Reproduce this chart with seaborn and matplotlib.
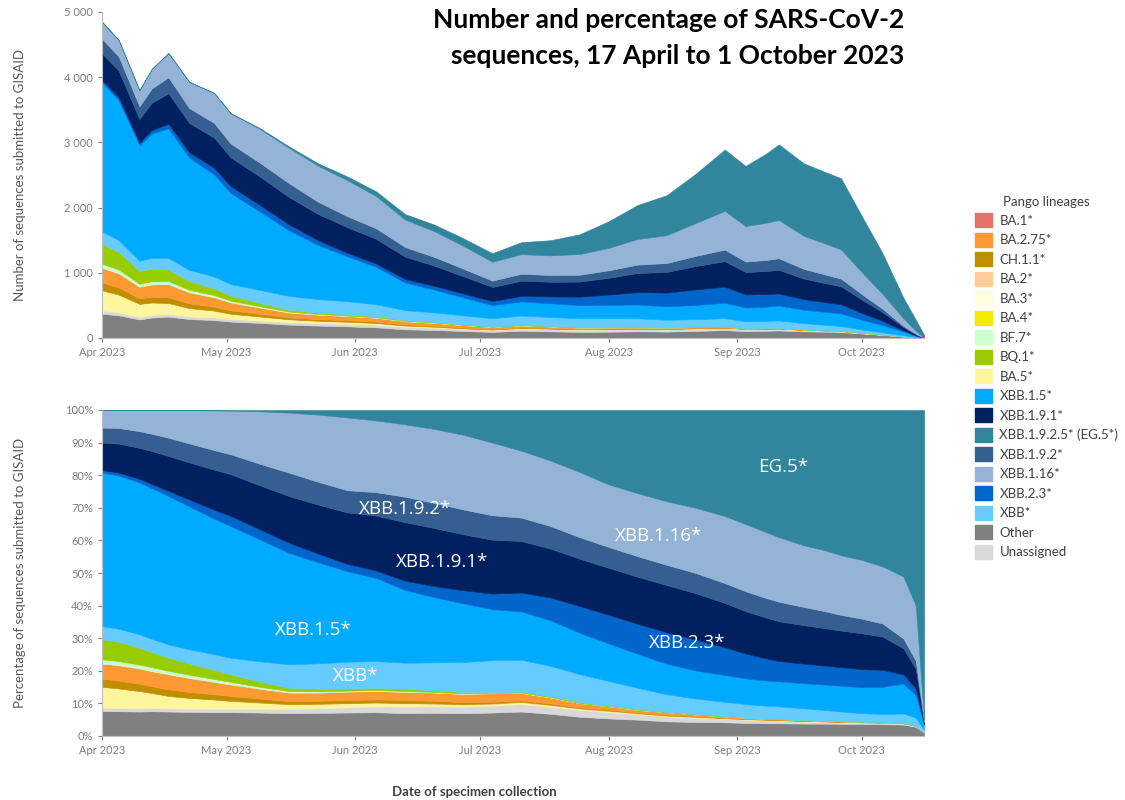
import numpy as np
import pandas as pd
import seaborn as sns
import matplotlib.pyplot as plt
import matplotlib.dates as mdates
import matplotlib.ticker as mtick
from matplotlib.patches import Patch

dates = ["2023-04-01", "2023-04-05", "2023-04-10", "2023-04-13", "2023-04-17", "2023-04-22",
         "2023-04-28", "2023-05-02", "2023-05-09", "2023-05-16", "2023-05-23", "2023-05-30",
         "2023-06-06", "2023-06-13", "2023-06-20", "2023-06-27", "2023-07-04", "2023-07-11",
         "2023-07-18", "2023-07-25", "2023-08-01", "2023-08-08", "2023-08-15", "2023-08-22",
         "2023-08-29", "2023-09-03", "2023-09-08", "2023-09-11", "2023-09-17", "2023-09-22",
         "2023-09-26", "2023-10-01", "2023-10-06", "2023-10-11", "2023-10-14", "2023-10-16"]

# total sequences per day (top panel)
totals = [4850, 4570, 3800, 4130, 4370, 3930, 3760, 3450, 3220, 2940, 2680, 2480,
          2250, 1900, 1740, 1530, 1300, 1470, 1500, 1590, 1790, 2040, 2190, 2520,
          2890, 2640, 2830, 2970, 2680, 2550, 2450, 1870, 1300, 620, 280, 50]

# share of each lineage, % (bottom panel)
other = [7.7, 7.6, 7.5, 7.6, 7.5, 7.4, 7.3, 7.3, 7.2, 7.0, 7.1, 7.2, 7.3, 7.0, 7.1, 7.0, 7.2, 7.5,
         6.8, 5.9, 5.4, 5.0, 4.5, 4.3, 4.2, 4.0, 3.9, 3.9, 3.8, 3.8, 3.7, 3.7, 3.6, 3.5, 2.8, 1.0]
unassigned = [1.0, 1.0, 1.0, 1.0, 1.0, 1.0, 1.1, 1.1, 1.2, 1.3, 1.4, 1.6, 1.8, 2.0, 2.0, 2.0, 2.1, 2.3,
              2.2, 2.1, 1.9, 1.7, 1.5, 1.3, 1.1, 1.0, 0.9, 0.8, 0.6, 0.5, 0.4, 0.3, 0.3, 0.3, 0.3, 0.2]
ba5 = [6.4, 6.0, 5.3, 4.6, 3.8, 3.3, 2.8, 2.3, 1.8, 1.4, 1.3, 1.2, 1.1, 1.0, 0.8, 0.6, 0.5, 0.5,
       0.4, 0.3, 0.3, 0.2, 0.2, 0.2, 0.1, 0.1, 0.1, 0.1, 0.1, 0.1, 0.1, 0.1, 0.1, 0.1, 0.0, 0.0]
ba2 = [0.0, 0.0, 0.0, 0.0, 0.0, 0.0, 0.0, 0.1, 0.1, 0.1, 0.1, 0.1, 0.1, 0.1, 0.1, 0.2, 0.2, 0.2,
       0.2, 0.2, 0.2, 0.1, 0.1, 0.1, 0.1, 0.1, 0.1, 0.1, 0.1, 0.1, 0.1, 0.1, 0.1, 0.0, 0.0, 0.0]
ch11 = [2.5, 2.4, 2.2, 2.1, 2.0, 1.8, 1.6, 1.5, 1.2, 0.9, 0.9, 0.9, 0.9, 0.9, 0.8, 0.6, 0.5, 0.4,
        0.4, 0.3, 0.3, 0.2, 0.2, 0.2, 0.1, 0.1, 0.1, 0.1, 0.1, 0.1, 0.1, 0.1, 0.0, 0.0, 0.0, 0.0]
ba275 = [4.6, 4.7, 4.7, 4.6, 4.6, 4.3, 3.8, 3.5, 3.0, 2.6, 2.5, 2.6, 2.6, 2.5, 2.5, 2.5, 2.6, 2.3,
         1.8, 1.3, 1.0, 0.8, 0.8, 0.5, 0.4, 0.3, 0.2, 0.2, 0.2, 0.1, 0.1, 0.1, 0.1, 0.1, 0.0, 0.0]
bf7 = [1.3, 1.3, 1.2, 1.2, 1.1, 1.0, 0.9, 0.8, 0.6, 0.5, 0.4, 0.3, 0.3, 0.3, 0.2, 0.2, 0.1, 0.1,
       0.1, 0.0, 0.0, 0.0, 0.0, 0.0, 0.0, 0.0, 0.0, 0.0, 0.0, 0.0, 0.0, 0.0, 0.0, 0.0, 0.0, 0.0]
bq1 = [6.2, 5.9, 5.2, 4.6, 4.0, 3.4, 2.8, 2.3, 1.6, 1.0, 0.8, 0.7, 0.7, 0.7, 0.5, 0.4, 0.3, 0.3,
       0.3, 0.3, 0.2, 0.2, 0.1, 0.1, 0.1, 0.0, 0.0, 0.0, 0.0, 0.0, 0.0, 0.0, 0.0, 0.0, 0.0, 0.0]
xbb = [4.0, 4.0, 4.1, 4.1, 4.1, 4.4, 4.8, 5.1, 6.2, 7.2, 7.8, 8.2, 8.2, 8.0, 8.6, 9.2, 9.8, 9.8,
       9.3, 8.6, 7.6, 6.6, 5.4, 4.8, 4.4, 4.2, 4.0, 3.9, 3.6, 3.3, 3.0, 2.6, 2.6, 2.9, 2.5, 0.8]
xbb_1_5 = [47.1, 47.0, 46.6, 46.2, 45.5, 43.8, 41.6, 40.4, 37.4, 34.2, 31.0, 27.8, 25.5, 22.3, 20.0,
           18.0, 15.6, 14.8, 14.0, 12.7, 11.5, 10.4, 9.4, 8.6, 8.2, 7.9, 7.7, 7.7, 7.7, 7.8, 7.9,
           8.0, 8.3, 9.2, 7.0, 1.5]
xbb_2_3 = [0.8, 0.9, 1.1, 1.3, 1.6, 2.1, 2.7, 3.1, 3.1, 3.1, 2.7, 2.2, 2.3, 2.8, 3.4, 4.0, 4.8, 5.8,
           7.0, 8.2, 8.8, 9.2, 9.6, 9.5, 8.5, 7.6, 6.8, 6.2, 6.0, 5.8, 5.7, 5.5, 5.2, 2.8, 2.0, 0.3]
xbb_1_9_1 = [8.4, 8.9, 9.5, 10.1, 10.7, 11.4, 12.3, 12.8, 13.5, 14.3, 15.0, 15.8, 16.8, 18.0, 17.8,
             17.2, 16.5, 15.8, 15.0, 14.5, 14.4, 14.4, 14.5, 14.2, 13.6, 13.0, 12.5, 12.2, 11.8,
             11.5, 11.2, 11.0, 10.2, 8.0, 6.0, 0.4]
xbb_1_9_2 = [4.6, 4.8, 5.1, 5.3, 5.6, 5.8, 6.0, 6.1, 6.6, 7.2, 7.0, 6.8, 7.2, 7.8, 7.7, 7.6, 7.5, 7.2,
             6.9, 6.6, 6.4, 6.3, 6.2, 6.2, 6.1, 6.1, 6.0, 6.0, 5.6, 5.2, 4.8, 4.5, 4.0, 3.0, 2.5, 0.2]
xbb_1_16 = [5.4, 5.5, 6.5, 7.3, 8.5, 10.2, 12.2, 13.4, 16.1, 18.4, 20.6, 22.3, 22.0, 22.2, 22.7,
            22.9, 22.3, 20.5, 20.1, 20.0, 19.2, 19.3, 19.5, 20.0, 20.6, 20.6, 20.2, 19.8, 18.9,
            18.7, 18.3, 18.0, 17.5, 19.0, 16.9, 0.6]
eg5 = [0.0, 0.0, 0.0, 0.0, 0.0, 0.05, 0.1, 0.2, 0.4, 0.8, 1.4, 2.3, 3.2, 4.4, 5.8, 7.6, 10.0, 12.5,
       15.5, 19.0, 22.8, 25.5, 28.0, 30.0, 32.5, 35.0, 37.5, 39.0, 41.5, 43.0, 44.5, 46.0, 48.0,
       51.0, 60.0, 95.0]

# stacking order, bottom to top
stack = [("Other", other, "#808080"),
         ("Unassigned", unassigned, "#D9D9D9"),
         ("BA.5*", ba5, "#FFF59D"),
         ("BA.2*", ba2, "#FFCC99"),
         ("CH.1.1*", ch11, "#BF8F00"),
         ("BA.2.75*", ba275, "#FF9933"),
         ("BF.7*", bf7, "#CCFFCC"),
         ("BQ.1*", bq1, "#99CC00"),
         ("XBB*", xbb, "#66CCFF"),
         ("XBB.1.5*", xbb_1_5, "#00AAFF"),
         ("XBB.2.3*", xbb_2_3, "#0066CC"),
         ("XBB.1.9.1*", xbb_1_9_1, "#002060"),
         ("XBB.1.9.2*", xbb_1_9_2, "#355F91"),
         ("XBB.1.16*", xbb_1_16, "#95B3D7"),
         ("XBB.1.9.2.5* (EG.5*)", eg5, "#31859C")]

legend_items = [("BA.1*", "#E8706B"), ("BA.2.75*", "#FF9933"), ("CH.1.1*", "#BF8F00"),
                ("BA.2*", "#FFCC99"), ("BA.3*", "#FFFFDD"), ("BA.4*", "#F2EA00"),
                ("BF.7*", "#CCFFCC"), ("BQ.1*", "#99CC00"), ("BA.5*", "#FFF59D"),
                ("XBB.1.5*", "#00AAFF"), ("XBB.1.9.1*", "#002060"),
                ("XBB.1.9.2.5* (EG.5*)", "#31859C"), ("XBB.1.9.2*", "#355F91"),
                ("XBB.1.16*", "#95B3D7"), ("XBB.2.3*", "#0066CC"), ("XBB*", "#66CCFF"),
                ("Other", "#808080"), ("Unassigned", "#D9D9D9")]

sns.set_theme(style="white")
plt.rcParams['font.family'] = ['Lato', 'DejaVu Sans']

x = pd.to_datetime(dates)
shares = pd.DataFrame({name: vals for name, vals, _ in stack}, index=x)
pct = shares.div(shares.sum(axis=1), axis=0) * 100
counts = pct.mul(np.array(totals), axis=0) / 100
colors = [c for _, _, c in stack]

fig = plt.figure(figsize=(11.25, 8), dpi=100)
ax1 = fig.add_axes([0.0907, 0.5775, 0.7307, 0.4075])
ax2 = fig.add_axes([0.0907, 0.08, 0.7307, 0.4075])

for ax, df in [(ax1, counts), (ax2, pct)]:
    polys = ax.stackplot(df.index, df.T.values, colors=colors)
    for p, c in zip(polys, colors):
        p.set_edgecolor(c)
        p.set_linewidth(0.4)
    ax.set_xlim(pd.Timestamp("2023-04-01"), pd.Timestamp("2023-10-16"))
    ax.xaxis.set_major_locator(mdates.MonthLocator())
    ax.xaxis.set_major_formatter(mdates.DateFormatter("%b %Y"))
    ax.tick_params(axis="both", labelsize=8, colors="#7F7F7F", length=3, width=0.8,
                   direction="out", bottom=True, left=True)
    sns.despine(ax=ax)
    for s in ["left", "bottom"]:
        ax.spines[s].set_color("#BFBFBF")
        ax.spines[s].set_linewidth(0.8)
    ax.set_xlabel("")
    ax.set_ylabel("")
    ax.grid(False)

ax1.set_ylim(0, 5000)
ax1.yaxis.set_major_locator(mtick.MultipleLocator(1000))
ax1.yaxis.set_major_formatter(mtick.FuncFormatter(lambda v, p: f"{int(v):,}".replace(",", " ")))

ax2.set_ylim(0, 100)
ax2.yaxis.set_major_locator(mtick.MultipleLocator(10))
ax2.yaxis.set_major_formatter(mtick.PercentFormatter(decimals=0))

# in-plot lineage labels
labels = [("XBB.1.9.2*", "2023-06-13", 69.5), ("XBB.1.9.1*", "2023-06-22", 53.5),
          ("XBB.1.5*", "2023-05-22", 32.5), ("XBB*", "2023-06-01", 18.5),
          ("EG.5*", "2023-09-12", 82.5), ("XBB.1.16*", "2023-08-13", 61.5),
          ("XBB.2.3*", "2023-08-20", 28.5)]
for txt, d, yv in labels:
    ax2.text(pd.Timestamp(d), yv, txt, color="white", fontsize=13.5, ha="center",
             va="center", family=["Open Sans", "DejaVu Sans"])

fig.text(0.804, 0.99, "Number and percentage of SARS-CoV-2\nsequences, 17 April to 1 October 2023",
         ha="right", va="top", fontsize=19, fontweight="bold", color="black", linespacing=1.6)

fig.text(0.018, 0.781, "Number of sequences submitted to GISAID", rotation=90,
         ha="center", va="center", fontsize=9.5, color="#595959")
fig.text(0.018, 0.284, "Percentage of sequences submitted to GISAID", rotation=90,
         ha="center", va="center", fontsize=9.5, color="#595959")
fig.text(0.422, 0.002, "Date of specimen collection", ha="center", va="bottom",
         fontsize=9.5, color="#404040", fontweight="bold")

handles = [Patch(facecolor=c, edgecolor=c, label=n) for n, c in legend_items]
leg = fig.legend(handles=handles, title="Pango lineages", loc="upper left",
                 bbox_to_anchor=(0.862, 0.762), frameon=False, fontsize=9.5,
                 title_fontsize=9.5, handlelength=1.25, handleheight=1.25,
                 handletextpad=0.6, labelspacing=0.42, borderaxespad=0)
for t in leg.get_texts():
    t.set_color("#404040")
leg.get_title().set_color("#404040")

fig.savefig("out.png", dpi=100)
